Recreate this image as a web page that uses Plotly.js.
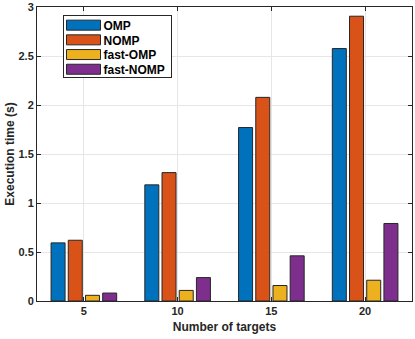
<!DOCTYPE html>
<html>
<head>
<meta charset="utf-8">
<script src="https://cdn.plot.ly/plotly-3.0.1.min.js"></script>
<style>
html,body{margin:0;padding:0;background:#fff;}
#chart{width:415px;height:339px;}
</style>
</head>
<body>
<div id="chart"></div>
<script>
const targets = [5, 10, 15, 20];
const seriesNames = ['OMP', 'NOMP', 'fast-OMP', 'fast-NOMP'];
const ompTimes = [0.593, 1.185, 1.770, 2.576];
const nompTimes = [0.620, 1.310, 2.078, 2.906];
const fastOmpTimes = [0.058, 0.108, 0.158, 0.212];
const fastNompTimes = [0.081, 0.239, 0.461, 0.791];
const seriesColors = ['#0072BD', '#D95319', '#EDB120', '#7E2F8E'];
const yTickVals = [0, 0.5, 1, 1.5, 2, 2.5, 3];
const yTickText = ['0', '0.5', '1', '1.5', '2', '2.5', '3'];

const FONT = 'Liberation Sans, Arial, sans-serif';
const allValues = [ompTimes, nompTimes, fastOmpTimes, fastNompTimes];

const traces = allValues.map((vals, i) => ({
  type: 'bar',
  name: seriesNames[i],
  x: targets,
  y: vals,
  marker: {color: seriesColors[i], line: {color: '#262626', width: 1}},
  hoverinfo: 'x+y+name'
}));

const axisCommon = {
  showline: true,
  linecolor: '#262626',
  linewidth: 1,
  mirror: 'ticks',
  ticks: 'inside',
  ticklen: 4,
  tickcolor: '#262626',
  showgrid: true,
  gridcolor: '#e6e6e6',
  gridwidth: 1,
  zeroline: false,
  ticklabeloverflow: 'allow',
  tickfont: {family: FONT, size: 11, color: '#262626', weight: 'bold'}
};

const layout = {
  width: 415,
  height: 339,
  margin: {l: 37, r: 3, t: 7, b: 38},
  paper_bgcolor: '#fff',
  plot_bgcolor: '#fff',
  barmode: 'group',
  bargap: 0.266,
  bargroupgap: 0.186,
  showlegend: true,
  legend: {
    x: 0.068, y: 0.974, xanchor: 'left', yanchor: 'top',
    bgcolor: '#fff', bordercolor: '#262626', borderwidth: 1,
    font: {family: FONT, size: 12, color: '#000', weight: 'bold'},
    tracegroupgap: 0,
    itemwidth: 30
  },
  xaxis: Object.assign({}, axisCommon, {
    range: [2.5, 22.5],
    tickvals: targets,
    ticktext: targets.map(String),
    title: {text: 'Number of targets', font: {family: FONT, size: 12, color: '#262626', weight: 'bold'}, standoff: 6}
  }),
  yaxis: Object.assign({}, axisCommon, {
    range: [0, 3],
    tickvals: yTickVals,
    ticktext: yTickText,
    title: {text: 'Execution time (s)', font: {family: FONT, size: 12, color: '#262626', weight: 'bold'}, standoff: 1}
  })
};

Plotly.newPlot('chart', traces, layout, {displayModeBar: false, staticPlot: true}).then(gd => {
  // widen legend swatches and tighten rows to resemble the reference
  gd.querySelectorAll('.legend .legendpoints path').forEach(p => {
    p.setAttribute('d', 'M17,5H-17V-5H17Z');
  });
  const items = gd.querySelectorAll('.legend .traces');
  const rowH = 14.7;
  items.forEach((g, i) => {
    g.setAttribute('transform', 'translate(1,' + (10.5 + i * rowH) + ')');
  });
  const bg = gd.querySelector('.legend .bg');
  if (bg) bg.setAttribute('height', 62);
  const sb = gd.querySelector('.legend .scrollbox');
  if (sb) sb.removeAttribute('clip-path');
});
</script>
</body>
</html>
